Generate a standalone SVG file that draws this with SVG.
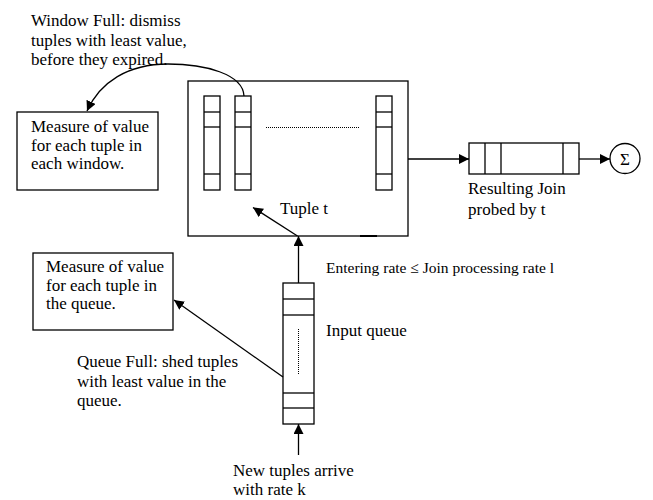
<svg xmlns="http://www.w3.org/2000/svg" width="653" height="500" viewBox="0 0 653 500">
<defs>
<marker id="ah" viewBox="0 0 10 10" refX="10" refY="5" markerWidth="10" markerHeight="10" markerUnits="userSpaceOnUse" orient="auto">
<path d="M0,0 L10,5 L0,10 z" fill="#000"/>
</marker>
</defs>
<style>
.b{fill:#fff;stroke:#000;stroke-width:1.3}
.l{fill:none;stroke:#000;stroke-width:1.3}
.d{fill:none;stroke:#000;stroke-width:1;stroke-dasharray:1 1}
.c{stroke:#000;stroke-width:1.3;fill:none;marker-end:url(#ah)}
text{font-family:"Liberation Serif","Times New Roman",serif;font-size:17px;fill:#000}
.s{font-size:15.5px}
</style>
<rect width="653" height="500" fill="#fff"/>

<g id="window-full-label">
<text x="31" y="26">Window Full: dismiss</text>
<text x="31" y="46">tuples with least value,</text>
<text x="31" y="65">before they expired.</text>
</g>

<g id="window-measure">
<rect class="b" x="17" y="112" width="141" height="78"/>
<text x="31" y="132">Measure of value</text>
<text x="31" y="151">for each tuple in</text>
<text x="31" y="169">each window.</text>
</g>

<g id="join-window">
<rect class="b" x="188" y="81" width="220" height="155"/>
<line x1="360" y1="236" x2="377" y2="236" stroke="#000" stroke-width="2"/>
<g id="col1">
<rect class="b" x="204" y="96" width="16" height="94"/>
<line class="l" x1="204" y1="112" x2="220" y2="112"/>
<line class="l" x1="204" y1="127" x2="220" y2="127"/>
<line class="l" x1="204" y1="174" x2="220" y2="174"/>
</g>
<g id="col2">
<rect class="b" x="235" y="96" width="16" height="94"/>
<line class="l" x1="235" y1="112" x2="251" y2="112"/>
<line class="l" x1="235" y1="127" x2="251" y2="127"/>
<line class="l" x1="235" y1="174" x2="251" y2="174"/>
</g>
<g id="col3">
<rect class="b" x="376" y="96" width="16" height="94"/>
<line class="l" x1="376" y1="112" x2="392" y2="112"/>
<line class="l" x1="376" y1="127" x2="392" y2="127"/>
<line class="l" x1="376" y1="174" x2="392" y2="174"/>
</g>
<line class="d" x1="266" y1="127.5" x2="359" y2="127.5"/>
<text x="280" y="214">Tuple t</text>
</g>

<g id="result-join">
<rect class="b" x="469" y="143" width="110" height="31"/>
<line class="l" x1="485" y1="143" x2="485" y2="174"/>
<line class="l" x1="501" y1="143" x2="501" y2="174"/>
<line class="l" x1="563" y1="143" x2="563" y2="174"/>
<text x="468" y="194">Resulting Join</text>
<text x="468" y="215">probed by t</text>
</g>

<g id="sum">
<circle class="b" cx="625" cy="158.5" r="15"/>
<text x="625" y="164.5" text-anchor="middle" style="font-size:17px">Σ</text>
</g>

<g id="queue-measure">
<rect class="b" x="33" y="253" width="140" height="77"/>
<text x="46" y="272">Measure of value</text>
<text x="46" y="291">for each tuple in</text>
<text x="46" y="309">the queue.</text>
</g>

<g id="queue-full-label">
<text x="77" y="367">Queue Full: shed tuples</text>
<text x="77" y="387">with least value in the</text>
<text x="77" y="406">queue.</text>
</g>

<g id="input-queue">
<rect class="b" x="283" y="283" width="31" height="141"/>
<line class="l" x1="283" y1="299" x2="314" y2="299"/>
<line class="l" x1="283" y1="315" x2="314" y2="315"/>
<line class="l" x1="283" y1="393" x2="314" y2="393"/>
<line class="l" x1="283" y1="408" x2="314" y2="408"/>
<line class="d" x1="298.5" y1="329" x2="298.5" y2="375"/>
<text x="326" y="336">Input queue</text>
</g>

<g id="rate-label">
<text class="s" x="326" y="273">Entering rate ≤ Join processing rate l</text>
</g>

<g id="arrival-label">
<text x="233" y="476">New tuples arrive</text>
<text x="233" y="495">with rate k</text>
</g>

<g id="connectors">
<path class="c" d="M244,96 C243,74 205,64 168,64 C128,64 100,82 87,111"/>
<line class="c" x1="408" y1="159" x2="469" y2="159"/>
<line class="c" x1="579" y1="159" x2="610" y2="159"/>
<line class="c" x1="298.5" y1="283" x2="298.5" y2="236"/>
<line class="c" x1="297.5" y1="236" x2="253" y2="207.5"/>
<line class="c" x1="283" y1="377" x2="174" y2="300"/>
<line class="c" x1="298.5" y1="455" x2="298.5" y2="424"/>
</g>
</svg>
